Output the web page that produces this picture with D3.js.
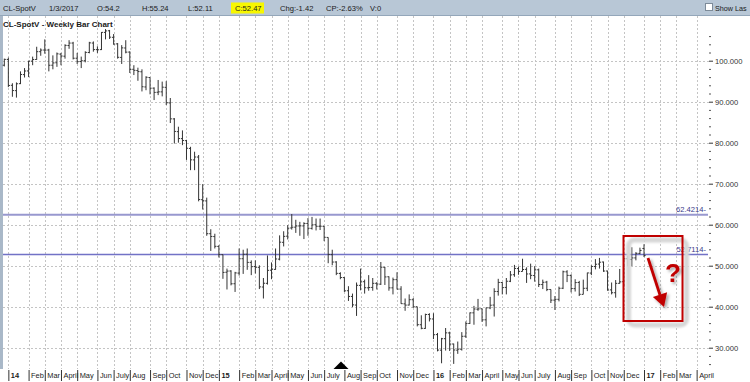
<!DOCTYPE html>
<html>
<head>
<meta charset="utf-8">
<script src="https://cdn.jsdelivr.net/npm/d3@7"></script>
<style>
body { margin: 0; background: #fff; }
svg { display: block; font-family: "Liberation Sans", Arial, sans-serif; }
</style>
</head>
<body>
<div id="chart"></div>
<script>
//Weekly bars, first week starts Mon 2013-12-23, last week Mon 2017-01-02
var firstWeek = new Date(2013, 11, 23);
var lastWeek = new Date(2017, 0, 2);

var opens = [98.9,100.3,94.0,92.7,94.4,96.6,97.5,99.9,100.3,102.2,
	102.6,102.6,98.9,99.5,101.6,101.1,103.7,104.3,100.6,99.8,
	100.0,102.0,104.3,102.7,102.7,106.9,107.3,105.7,104.1,100.8,
	103.1,102.1,97.9,97.6,97.3,93.6,95.9,93.3,92.3,92.4,
	93.5,89.7,85.8,82.7,81.0,80.5,78.6,75.8,76.5,66.1,
	65.8,57.8,57.1,54.7,52.7,48.4,48.7,45.6,48.2,51.7,
	52.8,50.8,49.8,49.6,44.8,45.7,48.9,49.1,51.6,55.7,
	57.2,59.2,59.4,59.7,59.7,60.3,59.1,60.0,59.6,59.6,
	56.9,52.7,50.9,48.1,47.1,43.9,42.5,40.4,45.2,46.1,
	44.6,44.7,45.7,45.5,49.6,47.3,44.6,46.6,44.3,40.7,
	40.4,41.7,40.0,35.6,34.7,38.1,37.0,33.2,29.4,32.2,
	33.6,30.9,29.4,29.6,32.8,35.9,38.5,39.4,39.5,36.8,
	39.7,40.4,43.7,45.9,44.7,46.2,47.8,49.3,48.6,49.1,
	48.0,47.6,49.0,45.4,46.0,44.2,41.6,41.8,44.5,48.5,
	47.6,44.4,45.9,43.0,44.5,48.2,49.8,50.4,50.9,48.7,
	44.1,43.4,45.7,46.1,51.7,51.5,51.9,53.0,54.2];
var highs = [100.5,100.75,94.5,94.7,97.4,98.2,100.0,101.0,103.4,103.0,
	105.2,102.9,101.3,102.0,101.9,104.0,105.0,104.6,101.9,101.0,
	102.3,104.6,104.7,103.5,107.0,107.7,107.5,106.5,104.3,103.8,
	105.0,102.3,98.9,98.3,97.9,96.2,95.9,93.5,95.3,94.9,
	95.0,90.9,86.0,83.9,83.0,80.7,79.0,77.8,77.0,69.9,
	66.6,58.9,57.8,55.0,52.7,49.3,48.9,48.5,54.2,53.9,
	54.2,51.3,51.3,50.1,47.0,52.5,50.8,54.2,57.4,58.4,
	59.9,62.6,61.2,60.7,60.6,61.6,61.9,61.5,61.5,59.7,
	56.9,53.9,51.1,48.4,47.2,45.0,43.2,45.9,49.3,46.6,
	47.7,47.0,46.0,50.9,49.7,47.4,47.1,48.4,45.0,42.0,
	43.0,42.1,40.0,37.9,38.3,38.4,38.4,33.6,32.4,34.8,
	33.9,31.0,31.5,33.8,36.4,38.6,40.2,41.9,39.5,39.8,
	42.4,44.5,46.8,46.0,47.0,48.7,50.2,49.8,51.7,49.6,
	50.5,49.9,49.3,46.6,46.3,44.2,42.6,44.9,48.8,48.9,
	47.9,46.7,46.3,46.6,48.3,50.1,51.6,51.9,51.0,48.8,
	45.9,46.5,49.2,51.7,52.4,54.5,53.3,54.4,55.24];
var lows = [98.6,93.55,91.2,91.0,94.3,95.9,96.0,98.9,100.2,101.2,
	101.7,97.4,97.9,98.5,98.9,100.5,102.9,100.3,99.2,98.2,
	99.6,101.8,102.2,101.9,102.6,105.2,105.3,103.9,100.5,99.2,
	101.8,97.0,96.5,95.1,92.5,92.8,91.8,90.4,91.6,91.3,
	89.2,84.8,79.8,80.0,79.4,75.8,73.3,73.3,65.7,63.7,
	57.3,53.6,54.2,52.0,46.8,44.2,45.2,43.6,47.6,48.0,
	49.0,47.7,48.1,44.3,42.0,45.4,46.7,49.0,51.3,54.7,
	56.4,58.8,58.0,57.3,56.5,57.3,58.8,58.6,58.7,56.0,
	50.6,50.1,47.7,46.7,43.6,41.4,39.9,37.75,44.0,43.2,
	43.9,43.9,44.2,45.3,45.3,43.9,43.0,44.2,40.7,39.0,
	40.3,39.7,35.2,34.5,34.6,36.4,32.1,29.1,26.2,29.3,
	29.2,26.05,28.5,29.3,32.4,35.8,35.6,39.0,36.3,35.2,
	39.4,37.6,42.7,43.0,43.0,46.0,47.3,47.8,48.6,45.8,
	46.7,46.1,44.8,44.3,43.8,40.9,39.2,41.3,44.3,46.0,
	43.5,43.7,42.6,43.0,43.8,47.7,49.1,49.3,48.5,43.9,
	43.0,42.2,45.6,44.8,49.9,49.9,51.3,52.8,52.11];
var closes = [100.32,93.96,92.72,94.37,96.64,97.49,99.88,100.30,102.20,102.59,
	102.58,98.89,99.46,101.67,101.14,103.74,104.30,100.60,99.76,99.99,
	102.02,104.35,102.71,102.66,106.91,107.26,105.74,104.06,100.83,103.13,
	102.09,97.88,97.65,97.35,93.65,95.96,93.29,92.27,92.41,93.54,
	89.74,85.82,82.75,81.01,80.54,78.65,75.82,76.51,66.15,65.84,
	57.81,57.13,54.73,52.69,48.36,48.69,45.59,48.24,51.69,52.78,
	50.81,49.76,49.61,44.84,45.72,48.87,49.14,51.64,55.74,57.15,
	59.15,59.39,59.69,59.72,60.30,59.13,59.96,59.61,59.63,56.93,
	52.74,50.89,48.14,47.12,43.87,42.50,40.45,45.22,46.05,44.63,
	44.68,45.70,45.54,49.63,47.26,44.60,46.59,44.29,40.74,40.39,
	41.71,39.97,35.62,34.73,38.10,37.04,33.16,29.42,32.19,33.62,
	30.89,29.44,29.64,32.78,35.92,38.50,39.44,39.46,36.79,39.72,
	40.36,43.73,45.92,44.66,46.21,47.75,49.33,48.62,49.07,47.98,
	47.64,48.99,45.41,45.95,44.19,41.60,41.80,44.49,48.52,47.64,
	44.44,45.88,43.03,44.48,48.24,49.81,50.35,50.85,48.70,44.07,
	43.41,45.69,46.06,51.68,51.50,51.90,53.02,53.72,52.47];

//Month separators (first weekly bar of each month) and their labels
var monthTicks = ["2013-12-30","2014-02-03","2014-03-03","2014-03-31","2014-04-28","2014-06-02",
	"2014-06-30","2014-07-28","2014-09-01","2014-09-29","2014-11-03","2014-12-01",
	"2014-12-29","2015-02-02","2015-03-02","2015-03-30","2015-04-27","2015-06-01",
	"2015-06-29","2015-08-03","2015-08-31","2015-09-28","2015-11-02","2015-11-30",
	"2016-01-04","2016-02-01","2016-02-29","2016-03-28","2016-05-02","2016-05-30",
	"2016-06-27","2016-08-01","2016-08-29","2016-10-03","2016-10-31","2016-11-28",
	"2017-01-02","2017-01-30","2017-02-27","2017-04-03"];
var monthLabels = ["14","Feb","Mar","April","May","Jun","July","Aug","Sep","Oct","Nov","Dec",
	"15","Feb","Mar","April","May","Jun","July","Aug","Sep","Oct","Nov","Dec",
	"16","Feb","Mar","April","May","Jun","July","Aug","Sep","Oct","Nov","Dec",
	"17","Feb","Mar","April"];
var majorTicks = [30,40,50,60,70,80,90,100];
var minorTicks = [26,28,32,34,36,38,42,44,46,48,52,54,56,58,62,64,66,68,72,74,76,78,82,84,86,88,92,94,96,98,102,104,106];
var priceLevels = [62.4214, 52.7114];
var quoteLabels = ["CL-SpotV","1/3/2017","O:54.2","H:55.24","L:52.11","C:52.47","Chg:-1.42","CP:-2.63%","V:0"];

(function () {
	'use strict';
	var width = 750, height = 382;
	var parse = d3.timeParse("%Y-%m-%d");
	var weeks = d3.timeMonday.range(firstWeek, d3.timeDay.offset(lastWeek, 1));
	var bars = weeks.map(function (d, i) {
		return { date: d, o: opens[i], h: highs[i], l: lows[i], c: closes[i] };
	});
	var tickDates = monthTicks.map(parse);

	var x = d3.scaleTime().domain([firstWeek, lastWeek]).range([4.3, 644]);
	var y = d3.scaleLinear().domain([30, 100]).range([347.7, 60.7]);

	var svg = d3.select("#chart").append("svg")
		.attr("width", width)
		.attr("height", height);

	var defs = svg.append("defs");
	defs.append("filter").attr("id", "soft")
		.attr("x", "-20%").attr("y", "-20%").attr("width", "140%").attr("height", "140%")
		.append("feGaussianBlur").attr("stdDeviation", 1.2);
	defs.append("filter").attr("id", "shadow")
		.attr("x", "-50%").attr("y", "-50%").attr("width", "200%").attr("height", "200%")
		.append("feDropShadow").attr("dx", 2).attr("dy", 2).attr("stdDeviation", 1.5)
		.attr("flood-color", "#000").attr("flood-opacity", 0.35);

	//Quote bar on top
	svg.append("rect").attr("x", 0).attr("y", 0).attr("width", width).attr("height", 15).attr("fill", "#b8c7d6");
	svg.append("line").attr("x1", 0).attr("x2", width).attr("y1", 15.5).attr("y2", 15.5).attr("stroke", "#94a7ba");
	var quoteX = [3, 49, 97, 142, 188, 235, 280, 326, 370];
	svg.append("rect").attr("x", 231).attr("y", 2.5).attr("width", 33).attr("height", 11).attr("fill", "#f7f700");
	svg.selectAll(".quote").data(quoteLabels).enter().append("text")
		.attr("class", "quote")
		.attr("x", function (d, i) { return quoteX[i]; })
		.attr("y", 11)
		.attr("font-size", 7.6)
		.attr("fill", "#1a1a1a")
		.text(function (d) { return d; });
	svg.append("rect").attr("x", 705.5).attr("y", 3.5).attr("width", 7).attr("height", 7)
		.attr("fill", "#fff").attr("stroke", "#7d8b99");
	svg.append("text").attr("x", 715).attr("y", 11).attr("font-size", 7.2).attr("fill", "#1a1a1a").text("Show Las");

	//Left strip
	svg.append("rect").attr("x", 0).attr("y", 16).attr("width", 3).attr("height", 353).attr("fill", "#a9b8c8");

	//Grid
	var grid = svg.append("g").attr("stroke", "#c4c4c4").attr("stroke-dasharray", "2,2").attr("shape-rendering", "crispEdges");
	grid.selectAll(".vgrid").data(tickDates).enter().append("line")
		.attr("x1", function (d) { return Math.round(x(d)) + 0.5; })
		.attr("x2", function (d) { return Math.round(x(d)) + 0.5; })
		.attr("y1", 16).attr("y2", 369);
	grid.selectAll(".hgrid").data(majorTicks).enter().append("line")
		.attr("x1", 3).attr("x2", 709)
		.attr("y1", function (d) { return Math.round(y(d)) + 0.5; })
		.attr("y2", function (d) { return Math.round(y(d)) + 0.5; });

	//Title
	svg.append("text").attr("x", 3).attr("y", 27)
		.attr("font-size", 8).attr("font-weight", "bold").attr("fill", "#1a1a1a")
		.text("CL-SpotV - Weekly Bar Chart");

	//Horizontal price levels
	svg.selectAll(".level").data(priceLevels).enter().append("line")
		.attr("x1", 3).attr("x2", 708)
		.attr("y1", function (d) { return y(d); })
		.attr("y2", function (d) { return y(d); })
		.attr("stroke", function (d, i) { return i === 0 ? "#9898cf" : "#7272c6"; })
		.attr("stroke-width", function (d, i) { return i === 0 ? 2.2 : 1.5; });
	svg.selectAll(".level-label").data(priceLevels).enter().append("text")
		.attr("x", 706).attr("y", function (d) { return y(d) - 3; })
		.attr("text-anchor", "end")
		.attr("font-size", 7.6)
		.attr("fill", "#3a3a8a")
		.text(function (d) { return d3.format(".4f")(d) + "-"; });

	//OHLC bars
	var g = svg.append("g").attr("stroke", "#333").attr("stroke-width", 1);
	var bar = g.selectAll(".bar").data(bars).enter().append("g").attr("class", "bar");
	bar.append("line")
		.attr("x1", function (d) { return x(d.date); })
		.attr("x2", function (d) { return x(d.date); })
		.attr("y1", function (d) { return y(d.h); })
		.attr("y2", function (d) { return y(d.l); });
	bar.append("line")
		.attr("x1", function (d) { return x(d.date) - 1.6; })
		.attr("x2", function (d) { return x(d.date); })
		.attr("y1", function (d) { return y(d.o); })
		.attr("y2", function (d) { return y(d.o); });
	bar.append("line")
		.attr("x1", function (d) { return x(d.date); })
		.attr("x2", function (d) { return x(d.date) + 1.6; })
		.attr("y1", function (d) { return y(d.c); })
		.attr("y2", function (d) { return y(d.c); });

	//Y axis on the right
	var gy = svg.append("g").attr("transform", "translate(709,0)")
		.call(d3.axisRight(y).tickValues(majorTicks).tickSize(4).tickPadding(2).tickFormat(d3.format(".3f")));
	gy.select(".domain").remove();
	gy.selectAll(".tick line").attr("stroke", "#333");
	gy.selectAll(".tick text").attr("font-size", 7.6).attr("fill", "#333").attr("font-family", "Liberation Sans, Arial, sans-serif");
	var gym = svg.append("g").attr("transform", "translate(709,0)")
		.call(d3.axisRight(y).tickValues(minorTicks).tickSize(2).tickFormat(""));
	gym.select(".domain").remove();
	gym.selectAll(".tick line").attr("stroke", "#555");

	//X axis (month row)
	var gx = svg.append("g").attr("transform", "translate(0,370)")
		.call(d3.axisBottom(x).tickValues(tickDates).tickSize(11)
			.tickFormat(function (d, i) { return monthLabels[i]; }));
	gx.select(".domain").remove();
	gx.selectAll(".tick line").attr("stroke", "#333");
	gx.selectAll(".tick text")
		.attr("text-anchor", "start")
		.attr("x", 2).attr("y", 2.5).attr("dy", "0.71em")
		.attr("font-size", 7.4).attr("fill", "#1a1a1a")
		.attr("font-family", "Liberation Sans, Arial, sans-serif")
		.attr("font-weight", function (d, i) { return /^\d+$/.test(monthLabels[i]) ? "bold" : "normal"; });

	//Marker triangle
	svg.append("path").attr("d", "M333.5,369L341,361.5L348.5,369Z").attr("fill", "#000");

	//Annotation box with arrow and question mark
	svg.append("rect").attr("x", 628.5).attr("y", 240).attr("width", 58).attr("height", 85).attr("rx", 6)
		.attr("fill", "none").attr("stroke", "#d6d6d6").attr("stroke-width", 5).attr("filter", "url(#soft)");
	svg.append("rect").attr("x", 623.5).attr("y", 236).attr("width", 59).attr("height", 85)
		.attr("fill", "none").attr("stroke", "#c00000").attr("stroke-width", 2);
	var ann = svg.append("g").attr("filter", "url(#shadow)");
	ann.append("line").attr("x1", 648).attr("y1", 258).attr("x2", 660).attr("y2", 295)
		.attr("stroke", "#c00000").attr("stroke-width", 2.8);
	ann.append("path").attr("d", "M664,307L652.9,296.9L667.1,292.3Z").attr("fill", "#c00000");
	ann.append("text").attr("x", 665).attr("y", 282)
		.attr("font-size", 26).attr("font-weight", "bold").attr("fill", "#c00000")
		.attr("font-family", "Liberation Sans, Arial, sans-serif")
		.text("?");
}());
</script>
</body>
</html>
